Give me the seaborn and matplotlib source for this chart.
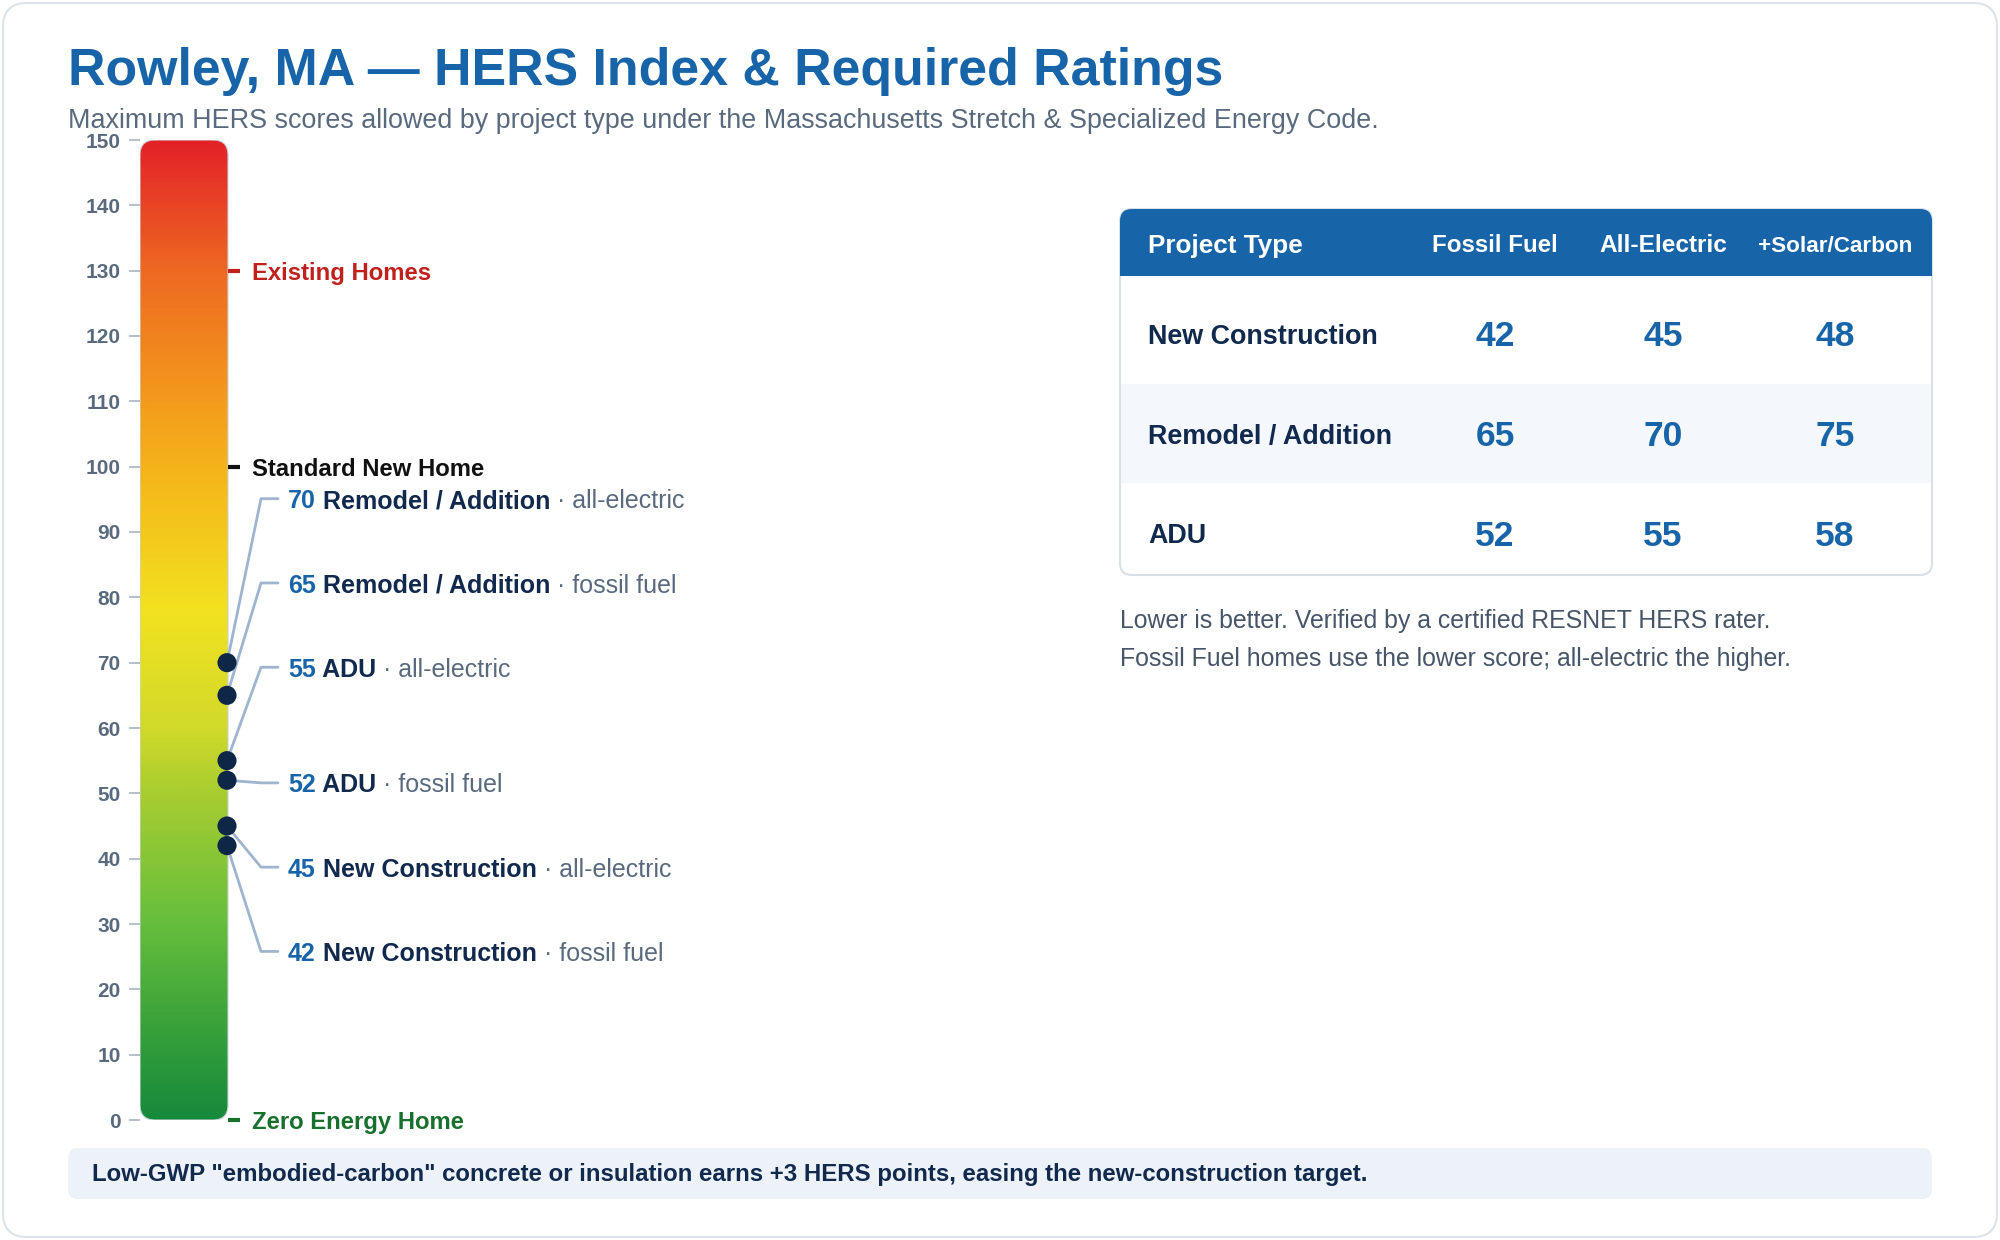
import numpy as np
import pandas as pd
import matplotlib
matplotlib.use("Agg")
import matplotlib.pyplot as plt
from matplotlib.patches import FancyBboxPatch, Rectangle
from matplotlib.colors import LinearSegmentedColormap
import seaborn as sns

# ======================================================
# DATA
# ======================================================
PROJECT_TYPES = ["New Construction", "Remodel / Addition", "ADU"]
FOSSIL_FUEL = [42, 65, 52]
ALL_ELECTRIC = [45, 70, 55]
SOLAR_CARBON = [48, 75, 58]
TABLE_COLUMNS = ["Project Type", "Fossil Fuel", "All-Electric", "+Solar/Carbon"]

BENCHMARKS = [130, 100, 0]
BENCHMARK_NAMES = ["Existing Homes", "Standard New Home", "Zero Energy Home"]

Y_TICKS = list(range(0, 151, 10))

NOTES = [
    "Lower is better. Verified by a certified RESNET HERS rater.",
    "Fossil Fuel homes use the lower score; all-electric the higher.",
]
FOOTER = 'Low-GWP "embodied-carbon" concrete or insulation earns +3 HERS points, easing the new-construction target.'

# ======================================================
# STYLE
# ======================================================
BLUE = "#1864a8"
NAVY = "#10294d"
GRAY = "#5a6a7e"
LINE = "#9fb4cf"
BENCH_COLORS = ["#c0211d", "#111111", "#17702c"]
GRADIENT = [
    (0.0, "#178a3c"), (10, "#2e9a3a"), (30, "#66be3c"), (50, "#a8cd30"),
    (60, "#d1da2a"), (78, "#f2e220"), (100, "#f5b31a"), (110, "#f39b1c"),
    (130, "#ee6a22"), (150, "#e32228"),
]

sns.set_theme(style="white")
plt.rcParams["font.family"] = ["Liberation Sans", "DejaVu Sans"]

W, H = 2000, 1240
fig = plt.figure(figsize=(20, 12.4), dpi=100)
fig.patch.set_facecolor("white")

# background canvas in pixel coords
bg = fig.add_axes([0, 0, 1, 1])
bg.set_xlim(0, W)
bg.set_ylim(H, 0)
bg.axis("off")

bg.add_patch(FancyBboxPatch((3, 3), W - 6, H - 6, boxstyle="round,pad=0,rounding_size=24",
                            facecolor="white", edgecolor="#dde3ea", lw=1.5))

bg.text(68, 85, "Rowley, MA \u2014 HERS Index & Required Ratings", fontsize=37.4,
        fontweight="bold", color=BLUE, va="baseline")
bg.text(68, 128, "Maximum HERS scores allowed by project type under the Massachusetts "
        "Stretch & Specialized Energy Code.", fontsize=19.4, color=GRAY, va="baseline")

# ---- table ----
tx0, tx1, ty0, ty1 = 1120, 1932, 209, 575
bg.add_patch(FancyBboxPatch((tx0, ty0), tx1 - tx0, ty1 - ty0, boxstyle="round,pad=0,rounding_size=12",
                            facecolor="white", edgecolor="#d8e0ea", lw=1.5))
bg.add_patch(FancyBboxPatch((tx0, ty0), tx1 - tx0, 67, boxstyle="round,pad=0,rounding_size=12",
                            facecolor=BLUE, edgecolor="none"))
bg.add_patch(Rectangle((tx0, ty0 + 40), tx1 - tx0, 27, facecolor=BLUE, edgecolor="none"))
bg.add_patch(Rectangle((tx0 + 1, 384), tx1 - tx0 - 2, 99, facecolor="#f4f7fb", edgecolor="none"))

col_x = [1148, 1495, 1663, 1835]
head_sizes = [18.8, 17.4, 17.6, 16.2]
for i, (name, x) in enumerate(zip(TABLE_COLUMNS, col_x)):
    bg.text(x, 246, name, fontsize=head_sizes[i], fontweight="bold", color="white",
            va="center", ha="left" if i == 0 else "center")

row_y = [337, 437, 536]
for r, name in enumerate(PROJECT_TYPES):
    bg.text(col_x[0], row_y[r], name, fontsize=19.4, fontweight="bold", color=NAVY, va="center")
    for c, vals in enumerate([FOSSIL_FUEL, ALL_ELECTRIC, SOLAR_CARBON]):
        bg.text(col_x[c + 1], row_y[r], str(vals[r]), fontsize=25.5, fontweight="bold",
                color=BLUE, va="center", ha="center")

for i, line in enumerate(NOTES):
    bg.text(1120, 628 + i * 38, line, fontsize=17.9, color="#475569", va="baseline")

# ---- footer ----
bg.add_patch(FancyBboxPatch((68, 1148), 1864, 51, boxstyle="round,pad=0,rounding_size=10",
                            facecolor="#edf2f8", edgecolor="none"))
bg.text(92, 1175, FOOTER, fontsize=17.3, fontweight="bold", color=NAVY, va="center")

# ======================================================
# THERMOMETER AXIS (x in pixels from bar left, y in HERS units)
# ======================================================
ax = fig.add_axes([140 / W, 120 / H, 760 / W, 980 / H])
ax.set_facecolor("none")
ax.set_xlim(0, 760)
ax.set_ylim(0, 150)
for s in ax.spines.values():
    s.set_visible(False)
ax.set_xticks([])
ax.set_yticks(Y_TICKS)
ax.set_yticklabels([str(t) for t in Y_TICKS], fontsize=15, fontweight="bold", color=GRAY)
ax.tick_params(axis="y", left=True, length=8, width=1.2, color="#a9b4c2", pad=6)

stops = [(v / 150, c) for v, c in GRADIENT]
cmap = LinearSegmentedColormap.from_list("hers", stops)
grad = np.linspace(0, 150, 600).reshape(-1, 1)
bar_w = 88
clip = FancyBboxPatch((0, 0), bar_w, 150, boxstyle="round,pad=0,rounding_size=15",
                      mutation_aspect=150 / 980, facecolor="none", edgecolor="#c9d1da",
                      lw=0.8, transform=ax.transData)
img = ax.imshow(grad, cmap=cmap, origin="lower", extent=[0, bar_w, 0, 150],
                aspect="auto", vmin=0, vmax=150, zorder=1)
img.set_clip_path(clip)
ax.add_patch(clip)

TEXT_NUDGE = -0.4  # centre text slightly below the guide line
for v, name, col in zip(BENCHMARKS, BENCHMARK_NAMES, BENCH_COLORS):
    ax.plot([bar_w, bar_w + 12], [v, v], color=col, lw=3, solid_capstyle="butt", clip_on=False)
    ax.text(112, v + TEXT_NUDGE, name, fontsize=17.2, fontweight="bold", color=col,
            va="center", clip_on=False)

# required ratings, sorted high to low
pts = pd.DataFrame({
    "value": FOSSIL_FUEL + ALL_ELECTRIC,
    "type": PROJECT_TYPES + PROJECT_TYPES,
    "fuel": ["fossil fuel"] * 3 + ["all-electric"] * 3,
}).sort_values("value", ascending=False).reset_index(drop=True)
pts["x"] = bar_w - 1

# label anchors after de-overlapping (layout, HERS units)
LABEL_Y = [95.1, 82.2, 69.3, 51.6, 38.7, 25.8]

for i, row in pts.iterrows():
    ly = LABEL_Y[i]
    ax.plot([row["x"], 121, 138], [row["value"], ly, ly], color=LINE, lw=2, zorder=3)
    t1 = ax.text(148, ly + TEXT_NUDGE, str(row["value"]), fontsize=18, fontweight="bold",
                 color=BLUE, va="center")
    t2 = ax.annotate(" " + row["type"], xy=(1, 0), xycoords=t1, fontsize=18,
                     fontweight="bold", color=NAVY, va="bottom")
    ax.annotate(" \u00b7 " + row["fuel"], xy=(1, 0), xycoords=t2, fontsize=18,
                color=GRAY, va="bottom")

sns.scatterplot(data=pts, x="x", y="value", ax=ax, s=190, color="#0f2747",
                edgecolor="none", zorder=5, clip_on=False, legend=False)
ax.set_xlabel("")
ax.set_ylabel("")

fig.savefig("out.png", dpi=100, facecolor="white")
